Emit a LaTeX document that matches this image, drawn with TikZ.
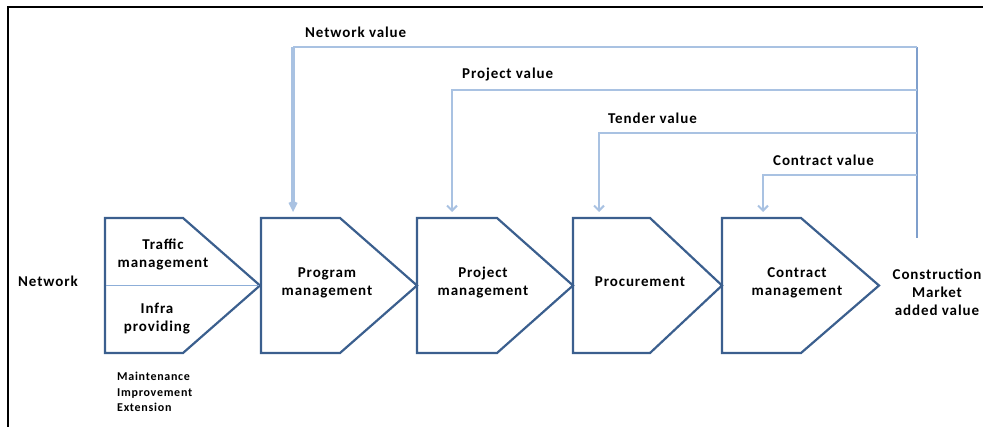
\documentclass[tikz,border=0pt]{standalone}
\usepackage{fontspec}
\setmainfont{Carlito}
\newfontfamily\spacedfont[LetterSpace=6]{Carlito}
\usetikzlibrary{arrows.meta}
\definecolor{boxblue}{HTML}{3B5F8E}
\definecolor{flowblue}{HTML}{A9C2E2}
\definecolor{riseblue}{HTML}{7F9FCC}
\definecolor{midblue}{HTML}{8DAED8}
\begin{document}
\begin{tikzpicture}[x=1pt,y=-1pt,
  chev/.style={draw=boxblue,line width=2.2pt,line join=miter},
  lbl/.style={font=\spacedfont\bfseries\fontsize{15}{18}\selectfont,align=center,inner sep=0pt},
  small/.style={font=\spacedfont\bfseries\fontsize{12}{15.5}\selectfont,align=left,inner sep=0pt},
  flowline/.style={draw=flowblue,line width=2pt},
  flow/.style={draw=flowblue,line width=2pt,-{Straight Barb[length=5pt,width=10pt]}},
]
\useasboundingbox (0,0) rectangle (983,427);
\draw[line width=2pt] (8,427) -- (8,7) -- (983,7);
% chevrons
\draw[chev] (105,218) -- (183,218) -- (260,285.5) -- (183,353) -- (105,353) -- cycle;
\draw[midblue,line width=1.5pt] (106,285.5) -- (259,285.5);
\draw[chev] (261,218) -- (340,218) -- (417,285.5) -- (340,353) -- (261,353) -- cycle;
\draw[chev] (417,218) -- (497,218) -- (573,285.5) -- (497,353) -- (417,353) -- cycle;
\draw[chev] (573,218) -- (650,218) -- (722,285.5) -- (650,353) -- (573,353) -- cycle;
\draw[chev] (722,218) -- (801,218) -- (879,285.5) -- (801,353) -- (722,353) -- cycle;
% texts
\node[lbl] (net) at (48,281) {Network};
\node[lbl] (traffic) at (163,254) {Traffic\\management};
\node[lbl] (infra) at (157,318.5) {Infra\\providing};
\node[small,anchor=north west] (mie) at (117,372) {Maintenance\\Improvement\\Extension};
\node[lbl] (prog) at (327,283) {Program\\management};
\node[lbl] (proj) at (483,283) {Project\\management};
\node[lbl] (proc) at (640,282) {Procurement};
\node[lbl] (contr) at (797,283) {Contract\\management};
\node[lbl] (cm) at (937,292) {Construction\\Market\\added value};
% arrow targets
\coordinate (b2in) at (293,212);
\coordinate (b3in) at (452,212);
\coordinate (b4in) at (599,212);
\coordinate (b5in) at (763,212);
% riser
\coordinate (rtop) at (917,47);
\coordinate (rbot) at (917,238);
\coordinate (r2) at (917,90);
\coordinate (r3) at (917,133);
\coordinate (r4) at (917,175);
\draw[draw=riseblue,line width=2pt] (rbot) -- (rtop);
\coordinate (c1) at (293,47);
\draw[flowline] (rtop) -- (c1);
\draw[flow,line width=4.5pt,-{Straight Barb[length=5pt,width=5pt]}] (c1) -- (b2in);
\draw[flow] (r2) -| (b3in);
\draw[flow] (r3) -| (b4in);
\draw[flow] (r4) -| (b5in);
% value labels
\node[lbl,anchor=west] (lnv) at (305,32) {Network value};
\node[lbl,anchor=west] (lpv) at (462,75) {Project value};
\node[lbl,anchor=west] (ltv) at (608,118) {Tender value};
\node[lbl,anchor=west] (lcv) at (773,160) {Contract value};
\end{tikzpicture}
\end{document}
